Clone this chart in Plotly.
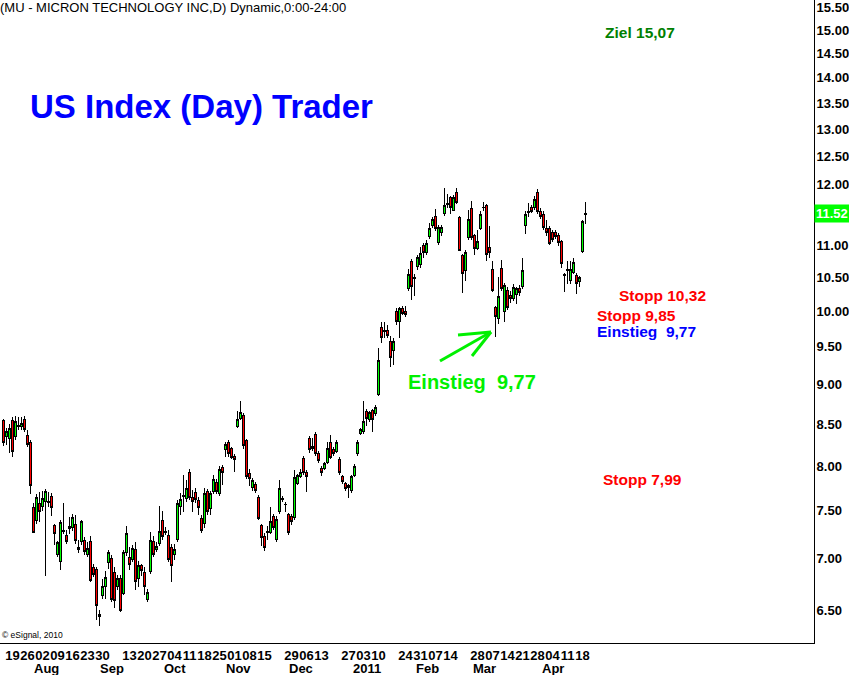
import math
import pandas as pd
import plotly.graph_objects as go

# MU daily candles, 2010-07-14 .. 2011-04-19
holidays = ["2010-09-06", "2010-11-25", "2010-12-24", "2011-01-17", "2011-02-21"]
dates = [d.strftime("%Y-%m-%d") for d in
         pd.bdate_range("2010-07-14", "2011-04-19", freq="C", holidays=holidays)]

opens = [
    8.54, 8.35, 8.32, 8.54, 8.35, 8.48, 8.47, 8.56, 8.36, 8.27,
    7.54, 7.40, 7.58, 7.55, 7.60, 7.59, 7.66, 7.34, 7.04, 6.97,
    7.28, 7.24, 7.31, 7.32, 7.35, 7.11, 7.17, 7.19, 7.04, 7.17,
    6.91, 6.89, 6.44, 6.64, 6.72, 6.96, 7.00, 6.86, 6.72, 6.80,
    6.66, 7.06, 7.01, 6.99, 7.09, 6.80, 6.93, 6.86, 6.60, 6.87,
    7.17, 7.09, 7.15, 7.40, 7.27, 7.24, 7.11, 7.04, 7.20, 7.55,
    7.66, 7.63, 7.93, 7.64, 7.70, 7.61, 7.42, 7.36, 7.71, 7.52,
    7.71, 7.81, 7.69, 7.98, 8.19, 8.28, 8.20, 8.11, 8.47, 8.57,
    8.61, 8.30, 7.91, 7.76, 7.79, 7.64, 7.34, 7.23, 7.27, 7.27,
    7.44, 7.20, 7.49, 7.62, 7.57, 7.46, 7.44, 7.43, 7.80, 7.88,
    8.09, 7.93, 8.32, 8.20, 8.37, 8.15, 7.97, 7.97, 8.04, 8.28,
    8.19, 8.17, 8.07, 7.88, 7.80, 7.78, 7.72, 7.89, 8.14, 8.38,
    8.41, 8.66, 8.56, 8.67, 8.63, 8.87, 9.77, 9.71, 9.73, 9.58,
    9.45, 10.00, 9.85, 10.04, 10.00, 10.34, 10.75, 10.49, 10.66, 10.70,
    11.00, 10.89, 11.14, 11.31, 11.46, 11.05, 11.20, 11.51, 11.66, 11.78,
    11.57, 11.86, 11.44, 10.83, 10.61, 11.12, 11.60, 11.15, 10.95, 11.27,
    11.62, 11.64, 10.97, 10.62, 10.05, 9.90, 10.63, 10.00, 10.31, 10.23,
    10.19, 10.25, 10.34, 10.36, 11.32, 11.53, 11.62, 11.62, 11.86, 11.55,
    11.50, 11.27, 11.27, 11.21, 11.20, 11.15, 11.06, 10.53, 10.62, 10.45,
    10.58, 10.53, 10.44, 10.90, 11.49,
]
highs = [
    8.56, 8.45, 8.50, 8.58, 8.60, 8.59, 8.59, 8.60, 8.43, 8.31,
    7.58, 7.68, 7.71, 7.72, 7.74, 7.71, 7.70, 7.36, 7.18, 7.40,
    7.58, 7.30, 7.43, 7.47, 7.45, 7.19, 7.40, 7.22, 7.17, 7.23,
    6.95, 6.92, 6.50, 6.80, 6.88, 7.09, 7.04, 6.92, 6.84, 6.84,
    7.09, 7.34, 7.12, 7.14, 7.17, 6.98, 6.95, 6.92, 6.70, 7.27,
    7.23, 7.17, 7.55, 7.50, 7.33, 7.29, 7.15, 7.15, 7.62, 7.70,
    7.90, 7.84, 7.97, 7.73, 7.75, 7.65, 7.45, 7.75, 7.74, 7.72,
    7.90, 7.85, 8.00, 8.01, 8.28, 8.31, 8.22, 8.14, 8.66, 8.78,
    8.64, 8.32, 7.97, 7.86, 7.82, 7.67, 7.36, 7.26, 7.34, 7.54,
    7.47, 7.44, 7.84, 7.66, 7.60, 7.48, 7.47, 7.95, 7.91, 7.96,
    8.12, 7.95, 8.35, 8.33, 8.40, 8.18, 8.00, 8.05, 8.28, 8.37,
    8.22, 8.30, 8.10, 7.90, 7.82, 7.80, 7.90, 8.02, 8.30, 8.45,
    8.78, 8.68, 8.66, 8.69, 8.74, 9.49, 9.85, 9.85, 9.80, 9.65,
    9.62, 10.05, 10.06, 10.08, 10.07, 10.63, 10.78, 10.55, 10.84, 10.97,
    11.03, 11.08, 11.36, 11.45, 11.59, 11.32, 11.33, 11.95, 11.85, 11.80,
    11.82, 11.95, 11.47, 10.86, 10.93, 11.58, 11.72, 11.18, 11.25, 11.55,
    11.70, 11.68, 11.30, 10.75, 10.08, 10.50, 10.77, 10.42, 10.35, 10.30,
    10.40, 10.36, 10.38, 10.80, 11.55, 11.69, 11.66, 11.80, 11.92, 11.60,
    11.55, 11.40, 11.30, 11.25, 11.24, 11.20, 11.08, 10.56, 10.75, 10.75,
    10.80, 10.56, 10.52, 11.40, 11.70,
]
lows = [
    8.23, 8.25, 8.15, 8.10, 8.30, 8.43, 8.43, 8.40, 8.22, 7.68,
    7.26, 7.36, 7.38, 7.50, 6.83, 7.54, 7.44, 7.14, 7.02, 6.89,
    7.25, 7.15, 7.25, 7.28, 7.15, 7.06, 7.14, 7.04, 7.02, 6.77,
    6.82, 6.41, 6.35, 6.60, 6.60, 6.90, 6.58, 6.52, 6.69, 6.48,
    6.64, 7.03, 6.89, 6.97, 6.69, 6.72, 6.83, 6.64, 6.58, 6.85,
    7.02, 7.07, 7.13, 7.19, 7.24, 6.97, 6.77, 6.99, 7.17, 7.45,
    7.49, 7.60, 7.62, 7.49, 7.58, 7.45, 7.26, 7.32, 7.45, 7.45,
    7.68, 7.68, 7.66, 7.78, 8.10, 8.10, 8.08, 7.93, 8.45, 8.55,
    8.20, 7.85, 7.77, 7.72, 7.70, 7.40, 7.13, 7.08, 7.19, 7.25,
    7.30, 7.17, 7.46, 7.60, 7.49, 7.24, 7.35, 7.40, 7.78, 7.86,
    7.90, 7.71, 8.15, 8.18, 8.12, 8.03, 7.88, 7.95, 8.02, 8.08,
    8.12, 8.15, 7.90, 7.80, 7.72, 7.64, 7.70, 7.87, 8.12, 8.36,
    8.38, 8.47, 8.53, 8.40, 8.60, 8.85, 9.55, 9.62, 9.62, 9.23,
    9.26, 9.80, 9.62, 9.95, 9.92, 10.30, 10.16, 10.22, 10.62, 10.65,
    10.80, 10.85, 11.10, 11.28, 11.22, 11.00, 11.15, 11.48, 11.60, 11.50,
    11.55, 11.68, 10.90, 10.27, 10.45, 11.08, 11.08, 10.85, 10.92, 11.25,
    11.55, 10.75, 10.80, 10.28, 9.64, 9.82, 10.30, 9.85, 10.02, 10.12,
    10.15, 10.10, 10.22, 10.33, 11.18, 11.45, 11.52, 11.58, 11.50, 11.42,
    11.25, 11.15, 11.00, 11.05, 11.10, 10.98, 10.65, 10.28, 10.40, 10.40,
    10.55, 10.25, 10.35, 10.88, 11.34,
]
closes = [
    8.27, 8.41, 8.45, 8.17, 8.53, 8.47, 8.50, 8.43, 8.25, 7.78,
    7.27, 7.64, 7.49, 7.63, 7.71, 7.60, 7.54, 7.26, 7.16, 7.37,
    7.29, 7.17, 7.33, 7.43, 7.19, 7.09, 7.38, 7.07, 7.10, 6.78,
    6.84, 6.54, 6.46, 6.72, 6.81, 7.06, 6.60, 6.59, 6.80, 6.50,
    7.06, 7.26, 6.94, 7.10, 6.77, 6.93, 6.88, 6.72, 6.67, 7.19,
    7.04, 7.12, 7.28, 7.23, 7.28, 6.99, 6.93, 7.09, 7.58, 7.62,
    7.67, 7.74, 7.65, 7.60, 7.62, 7.53, 7.29, 7.69, 7.49, 7.69,
    7.85, 7.71, 7.96, 7.93, 8.25, 8.15, 8.10, 8.08, 8.55, 8.64,
    8.24, 7.88, 7.86, 7.84, 7.72, 7.42, 7.22, 7.11, 7.28, 7.38,
    7.32, 7.41, 7.74, 7.63, 7.57, 7.27, 7.38, 7.87, 7.89, 7.93,
    7.92, 7.88, 8.19, 8.23, 8.15, 8.06, 7.92, 8.03, 8.20, 8.10,
    8.15, 8.28, 7.93, 7.82, 7.75, 7.76, 7.88, 8.00, 8.27, 8.43,
    8.53, 8.57, 8.64, 8.55, 8.71, 9.32, 9.63, 9.72, 9.65, 9.36,
    9.57, 9.85, 10.04, 9.97, 9.95, 10.55, 10.36, 10.50, 10.80, 10.87,
    10.89, 11.02, 11.27, 11.42, 11.26, 11.29, 11.29, 11.64, 11.68, 11.62,
    11.78, 11.70, 10.92, 10.56, 10.89, 11.42, 11.12, 10.95, 11.06, 11.50,
    11.61, 10.85, 10.89, 10.31, 9.93, 10.22, 10.33, 10.38, 10.06, 10.19,
    10.35, 10.33, 10.27, 10.60, 11.50, 11.55, 11.55, 11.74, 11.55, 11.47,
    11.29, 11.20, 11.03, 11.09, 11.14, 11.05, 10.72, 10.54, 10.61, 10.62,
    10.73, 10.41, 10.50, 11.38, 11.52,
]

tick_dates = [
    "2010-07-19", "2010-07-26", "2010-08-02", "2010-08-09", "2010-08-16",
    "2010-08-23", "2010-08-30", "2010-09-13", "2010-09-20", "2010-09-27",
    "2010-10-04", "2010-10-11", "2010-10-18", "2010-10-25", "2010-11-01",
    "2010-11-08", "2010-11-15", "2010-11-29", "2010-12-06", "2010-12-13",
    "2010-12-27", "2011-01-03", "2011-01-10", "2011-01-24", "2011-01-31",
    "2011-02-07", "2011-02-14", "2011-02-28", "2011-03-07", "2011-03-14",
    "2011-03-21", "2011-03-28", "2011-04-04", "2011-04-11", "2011-04-18",
]
month_names = ["Aug", "Sep", "Oct", "Nov", "Dec", "2011", "Feb", "Mar", "Apr"]
month_starts = ["2010-08-02", "2010-09-01", "2010-10-01", "2010-11-01", "2010-12-01",
                "2011-01-03", "2011-02-01", "2011-03-01", "2011-04-01"]
price_ticks = [6.5, 7.0, 7.5, 8.0, 8.5, 9.0, 9.5, 10.0, 10.5, 11.0,
               12.0, 12.5, 13.0, 13.5, 14.0, 14.5, 15.0, 15.5]
last_price = 11.52

print(len(dates), len(opens), len(highs), len(lows), len(closes))

FONT = "Arial, Liberation Sans, sans-serif"
PW, PH = 814, 643          # plot area in pixels


def px(x):
    return x / PW


def py(y):
    return 1 - y / PH


GREEN = "#00FF00"
RED = "#FF0000"

fig = go.Figure()
fig.add_trace(go.Candlestick(
    x=dates, open=opens, high=highs, low=lows, close=closes,
    increasing=dict(line=dict(color="black", width=1), fillcolor=GREEN),
    decreasing=dict(line=dict(color="black", width=1), fillcolor=RED),
    whiskerwidth=0, showlegend=False, hoverinfo="x+y",
))

annotations = []
# month labels under the day labels
for name, d in zip(month_names, month_starts):
    annotations.append(dict(
        x=dates.index(d) + 1.2, xref="x", y=py(668), yref="paper",
        text=name, showarrow=False, xanchor="center", yanchor="middle",
        font=dict(family=FONT, size=13, color="black", weight="bold"),
    ))


def label(text, x, y, size, color, bold=True):
    annotations.append(dict(
        x=px(x), y=py(y), xref="paper", yref="paper", text=text,
        showarrow=False, xanchor="left", yanchor="middle",
        font=dict(family=FONT, size=size, color=color,
                  weight="bold" if bold else "normal"),
    ))


label("(MU - MICRON TECHNOLOGY INC,D) Dynamic,0:00-24:00", -2, 8, 13, "black", bold=False)
label("US Index (Day) Trader", 28, 107, 33, "#0000FF")
label("Ziel 15,07", 603, 33, 15.5, "#008000")
label("Stopp 10,32", 617, 295, 15.5, "#FF0000")
label("Stopp 9,85", 595, 315, 15.5, "#FF0000")
label("Einstieg\u00a0 9,77", 595, 331, 15.5, "#0000FF")
label("Stopp 7,99", 601, 479, 15.5, "#FF0000")
label("Einstieg\u00a0 9,77", 406, 382, 20, "#00F000")
label("\u00a9 eSignal, 2010", 0, 635, 8.5, "black", bold=False)

# last price marker on the price axis
annotations.append(dict(
    x=1, xref="paper", y=math.log10(last_price), yref="y", text=f"{last_price:.2f}",
    showarrow=False, xanchor="left", yanchor="middle", xshift=0,
    bgcolor="#00FF00", borderpad=1,
    font=dict(family=FONT, size=13, color="white", weight="bold"),
))

# hand-drawn arrow pointing at the entry
arrow = dict(type="line", xref="paper", yref="paper",
             line=dict(color="#00F000", width=3))
shapes = [
    dict(arrow, x0=px(440), y0=py(361), x1=px(491), y1=py(332)),
    dict(arrow, x0=px(491), y0=py(332), x1=px(458), y1=py(335)),
    dict(arrow, x0=px(491), y0=py(332), x1=px(472), y1=py(356)),
]

fig.update_layout(
    width=849, height=675,
    margin=dict(l=0, r=35, t=0, b=32),
    paper_bgcolor="white", plot_bgcolor="white",
    annotations=annotations, shapes=shapes,
    showlegend=False, boxgap=0.0,
    xaxis=dict(
        type="category", range=[-7 / 6, 814 / 3 - 7 / 6], rangeslider=dict(visible=False),
        tickmode="array", tickvals=tick_dates, ticktext=[d[-2:] for d in tick_dates],
        tickangle=0, ticks="", showgrid=False, zeroline=False,
        showline=True, linecolor="black", linewidth=1, automargin=False,
        tickfont=dict(family=FONT, size=13, color="black", weight="bold"),
    ),
    yaxis=dict(
        type="log", side="right",
        range=[math.log10(6.198), math.log10(15.664)],
        tickmode="array", tickvals=price_ticks,
        ticktext=[f"{v:.2f}" for v in price_ticks],
        ticks="", showgrid=False, zeroline=False, ticklabelstandoff=-1,
        ticklabeloverflow="allow",
        showline=True, linecolor="black", linewidth=1, automargin=False,
        tickfont=dict(family=FONT, size=13, color="black", weight="bold"),
    ),
)

# the page body has a default 8px margin; drop it so the figure sits at 0,0,
# and draw the narrow candle bodies pixel-sharp like the original charting tool
fig.write_html(
    "out.html", config={"displayModeBar": False},
    post_script=(
        "document.body.style.margin='0';"
        "document.querySelectorAll('.boxlayer path').forEach("
        "function(p){p.style.shapeRendering='crispEdges';});"
    ),
)
